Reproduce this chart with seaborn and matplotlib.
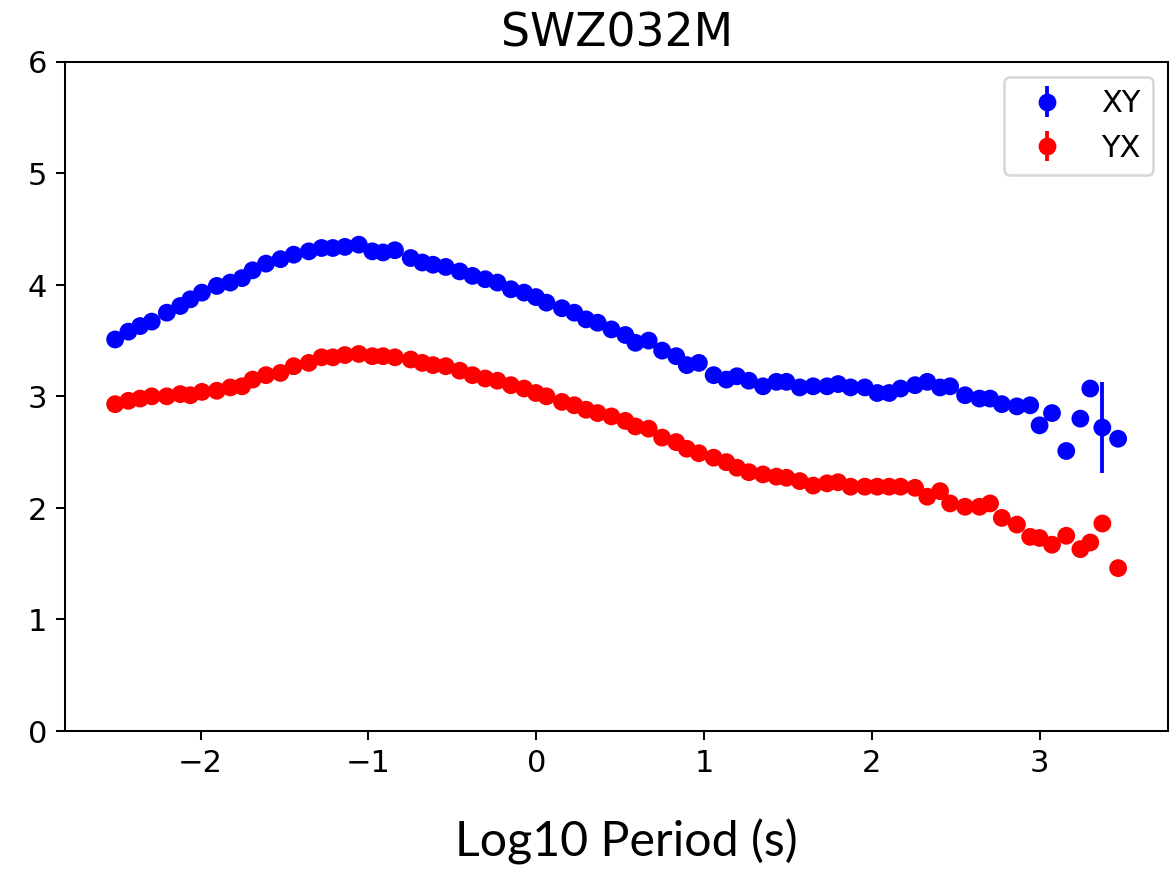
import matplotlib
matplotlib.use("Agg")
import matplotlib.pyplot as plt
import seaborn as sns
import pandas as pd
import numpy as np

# log10 period (s)
log_period = [-2.509, -2.430, -2.360, -2.291, -2.201, -2.121, -2.061, -1.992, -1.903, -1.823,
              -1.753, -1.690, -1.610, -1.524, -1.445, -1.355, -1.279, -1.212, -1.140, -1.057,
              -0.977, -0.913, -0.842, -0.748, -0.679, -0.615, -0.539, -0.456, -0.380, -0.304,
              -0.231, -0.151, -0.072, -0.002, 0.061, 0.153, 0.227, 0.297, 0.366, 0.448,
              0.531, 0.591, 0.670, 0.750, 0.834, 0.897, 0.969, 1.057, 1.133, 1.196,
              1.267, 1.351, 1.431, 1.491, 1.570, 1.650, 1.733, 1.799, 1.873, 1.958,
              2.032, 2.103, 2.171, 2.257, 2.330, 2.406, 2.466, 2.555, 2.641, 2.704,
              2.774, 2.864, 2.943, 2.999, 3.073, 3.158, 3.242, 3.301, 3.373, 3.467]

xy_values = [3.51, 3.58, 3.63, 3.67, 3.75, 3.81, 3.87, 3.93, 3.99, 4.02,
             4.06, 4.13, 4.19, 4.23, 4.27, 4.30, 4.33, 4.33, 4.34, 4.36,
             4.30, 4.29, 4.31, 4.24, 4.20, 4.18, 4.16, 4.12, 4.08, 4.05,
             4.02, 3.96, 3.93, 3.89, 3.84, 3.79, 3.75, 3.69, 3.66, 3.60,
             3.55, 3.48, 3.50, 3.41, 3.36, 3.28, 3.30, 3.19, 3.15, 3.18,
             3.14, 3.09, 3.13, 3.13, 3.08, 3.09, 3.09, 3.11, 3.08, 3.08,
             3.03, 3.03, 3.07, 3.10, 3.13, 3.08, 3.09, 3.01, 2.98, 2.98,
             2.93, 2.91, 2.92, 2.74, 2.85, 2.51, 2.80, 3.07, 2.72, 2.62]

yx_values = [2.93, 2.96, 2.98, 3.00, 3.00, 3.02, 3.01, 3.04, 3.05, 3.08,
             3.09, 3.15, 3.19, 3.21, 3.27, 3.30, 3.35, 3.35, 3.37, 3.38,
             3.36, 3.36, 3.35, 3.33, 3.30, 3.28, 3.27, 3.23, 3.19, 3.16,
             3.14, 3.10, 3.07, 3.03, 3.00, 2.95, 2.92, 2.88, 2.85, 2.82,
             2.78, 2.73, 2.71, 2.63, 2.59, 2.53, 2.49, 2.45, 2.41, 2.36,
             2.32, 2.30, 2.28, 2.27, 2.24, 2.20, 2.22, 2.23, 2.19, 2.19,
             2.19, 2.19, 2.19, 2.18, 2.10, 2.15, 2.04, 2.01, 2.01, 2.04,
             1.91, 1.85, 1.74, 1.73, 1.67, 1.75, 1.63, 1.69, 1.86, 1.46]

# the single visible error bar on XY
err_period = [3.373]
err_value = [2.72]
err_size = [0.41]

modes = ['XY', 'YX']
colors = {'XY': 'blue', 'YX': 'red'}

df = pd.DataFrame({
    'period': log_period * 2,
    'value': xy_values + yx_values,
    'mode': ['XY'] * len(xy_values) + ['YX'] * len(yx_values),
})

plt.rcParams['font.family'] = ['DejaVu Sans']
fig, ax = plt.subplots(figsize=(6.4, 4.75), dpi=183)
fig.subplots_adjust(left=0.0555, right=0.9975, top=0.9287, bottom=0.1588)

sns.scatterplot(data=df, x='period', y='value', hue='mode', palette=colors,
                s=36, edgecolor='face', linewidth=1, legend=False, ax=ax, zorder=3)

ax.errorbar(err_period, err_value, yerr=err_size, fmt='none', ecolor='blue',
            elinewidth=1.5, zorder=2)

# legend handles in errorbar style
for m in modes:
    ax.errorbar([np.nan], [np.nan], yerr=[np.nan], fmt='o', color=colors[m], label=m)
ax.legend(loc='upper right', fontsize=12)

ax.set_ylim(0, 6)
ax.set_yticks(range(0, 7))
ax.tick_params(labelsize=12)
ax.set_title('SWZ032M', fontsize=18)
ax.set_xlabel('Log10 Period (s)', fontsize=19, family=['Lato', 'DejaVu Sans'],
              labelpad=16, x=0.509)
ax.set_ylabel('')

fig.savefig('out.png', dpi=183)
